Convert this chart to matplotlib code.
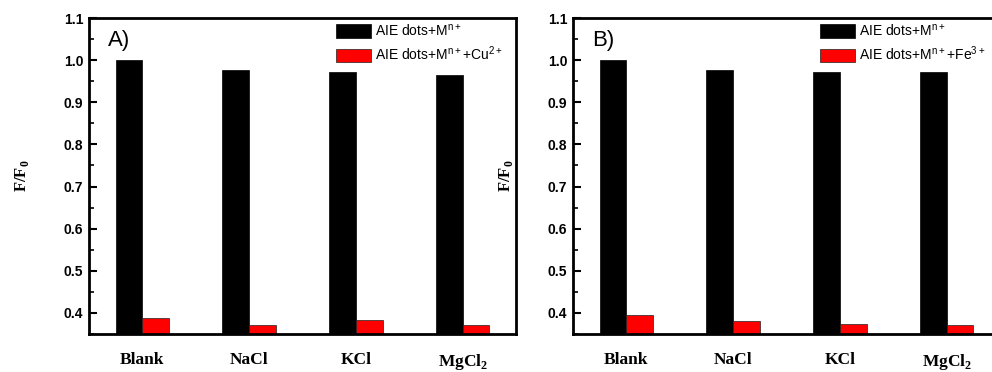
import numpy as np
import matplotlib
matplotlib.use("Agg")
from matplotlib import pyplot as plt
from matplotlib.ticker import MultipleLocator

categories = ["Blank", "NaCl", "KCl", r"MgCl$_\mathbf{2}$"]

# panel A (Cu2+)
a_metal = [1.000, 0.977, 0.973, 0.964]
a_cu = [0.387, 0.371, 0.383, 0.371]

# panel B (Fe3+)
b_metal = [1.000, 0.976, 0.972, 0.971]
b_fe = [0.395, 0.382, 0.374, 0.371]

plt.rcParams['mathtext.fontset'] = 'custom'
plt.rcParams['mathtext.rm'] = 'Liberation Sans'
plt.rcParams['mathtext.bf'] = 'Liberation Serif:bold'

serif = 'Liberation Serif'
sans = 'Liberation Sans'


def draw_panel(ax, metal, quench, tag, quench_label):
    x = np.arange(1, len(categories) + 1)
    w = 0.25
    ax.bar(x - w, metal, width=w, align='edge', color='black',
           edgecolor='black', linewidth=0.5, label=r'AIE dots+M$^{\mathrm{n+}}$')
    ax.bar(x, quench, width=w, align='edge', color='#ff0000',
           edgecolor='#202020', linewidth=0.5, label=quench_label)

    ax.set_xlim(0.5, 4.5)
    ax.set_ylim(0.35, 1.1)
    ax.yaxis.set_major_locator(MultipleLocator(0.1))
    ax.yaxis.set_minor_locator(MultipleLocator(0.05))
    ax.set_xticks(x)
    ax.set_xticklabels(categories, fontfamily=serif, fontweight='bold', fontsize=12.5)
    ax.tick_params(axis='x', length=0, pad=13)
    ax.tick_params(axis='y', which='major', direction='in', length=6, width=1.5,
                   labelsize=10, pad=4)
    ax.tick_params(axis='y', which='minor', direction='in', length=3.5, width=1.2)
    for lab in ax.get_yticklabels():
        lab.set_fontfamily(sans)
        lab.set_fontweight('bold')
    for sp in ax.spines.values():
        sp.set_linewidth(2)

    ax.set_ylabel(r'F/F$_\mathbf{0}$', fontfamily=serif, fontweight='bold',
                  fontsize=12, labelpad=24)
    ax.text(0.045, 0.93, tag, transform=ax.transAxes, fontfamily=sans,
            fontsize=16, va='center', ha='left')

    ax.legend(loc='upper left', bbox_to_anchor=(0.578, 0.985), frameon=False,
              prop={'family': sans, 'size': 10}, handlelength=2.5,
              handleheight=1.15, labelspacing=0.42, handletextpad=0.35,
              borderpad=0, borderaxespad=0)


fig = plt.figure(figsize=(9.92, 3.72), dpi=100)
ax1 = fig.add_axes([89 / 992, 38 / 372, 427 / 992, 316 / 372])
ax2 = fig.add_axes([573 / 992, 38 / 372, 427 / 992, 316 / 372])

draw_panel(ax1, a_metal, a_cu, 'A)', r'AIE dots+M$^{\mathrm{n+}}$+Cu$^{\mathrm{2+}}$')
draw_panel(ax2, b_metal, b_fe, 'B)', r'AIE dots+M$^{\mathrm{n+}}$+Fe$^{\mathrm{3+}}$')

fig.savefig('out.png', dpi=100)
